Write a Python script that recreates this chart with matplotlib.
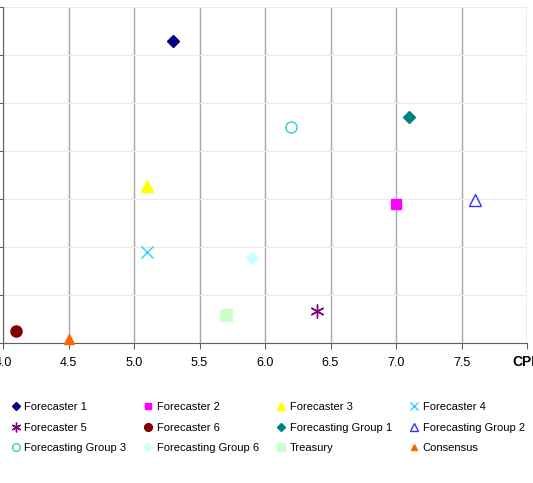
import matplotlib
matplotlib.use("Agg")
from matplotlib import pyplot as plt

plt.rcParams['font.family'] = ['Liberation Sans', 'DejaVu Sans']

names = ["Forecaster 1", "Forecaster 2", "Forecaster 3", "Forecaster 4",
         "Forecaster 5", "Forecaster 6", "Forecasting Group 1", "Forecasting Group 2",
         "Forecasting Group 3", "Forecasting Group 6", "Treasury", "Consensus"]
cpi = [5.3, 7.0, 5.1, 5.1, 6.4, 4.1, 7.1, 7.6, 6.2, 5.9, 5.7, 4.5]
growth = [3.15, 1.45, 1.64, 0.95, 0.33, 0.12, 2.35, 1.49, 2.25, 0.89, 0.29, 0.04]

# marker, face colour, edge colour, size
styles = [
    ("D", "#000080", "#000080", 6),
    ("s", "#FF00FF", "#FF00FF", 7),
    ("^", "#FFFF00", "#FFFF00", 8),
    ("x", "#33CCFF", "#33CCFF", 8),
    ((6, 2, 0), "#800080", "#800080", 10),
    ("o", "#800000", "#800000", 8),
    ("D", "#008080", "#008080", 6),
    ("^", "none", "#3333FF", 9),
    ("o", "none", "#33CCCC", 8),
    ("D", "#CCFFFF", "#CCFFFF", 6),
    ("s", "#CCFFCC", "#CCFFCC", 8),
    ("^", "#FF6600", "#FF6600", 7),
]

fig = plt.figure(figsize=(5.33, 4.83), dpi=100)
ax = fig.add_axes([3 / 533, 1 - 343 / 483, 524 / 533, 336 / 483])

handles = []
for n, x, y, (m, fc, ec, s) in zip(names, cpi, growth, styles):
    h, = ax.plot(x, y, linestyle="None", marker=m, markerfacecolor=fc,
                 markeredgecolor=ec, markersize=s, markeredgewidth=1.0,
                 label=n, clip_on=False, zorder=3)
    handles.append(h)

ax.set_xlim(4.0, 8.0)
ax.set_ylim(0, 3.5)
ax.set_xticks([4.0, 4.5, 5.0, 5.5, 6.0, 6.5, 7.0, 7.5, 8.0])
ax.set_xticklabels(["4.0", "4.5", "5.0", "5.5", "6.0", "6.5", "7.0", "7.5", ""])
ax.set_yticks([0, 0.5, 1.0, 1.5, 2.0, 2.5, 3.0, 3.5])
ax.tick_params(axis="x", labelsize=9, length=4, color="#606060", pad=6)
ax.tick_params(axis="y", labelsize=9, length=4, color="#606060")

ax.grid(axis="x", color="#A8A8A8", linewidth=1)
ax.grid(axis="y", color="#EBEBEB", linewidth=1)
ax.set_axisbelow(True)
for side in ["top", "right"]:
    ax.spines[side].set_visible(False)
for side in ["left", "bottom"]:
    ax.spines[side].set_color("#606060")

ax.text(8.0 - 0.11, -0.2, "CPI", fontsize=10, fontweight="bold",
        ha="left", va="center", clip_on=False)

# legend is filled column by column, so reorder to read row by row
order = [r * 4 + c for c in range(4) for r in range(3)]
fig.legend([handles[i] for i in order], [names[i] for i in order],
           loc="upper left", bbox_to_anchor=(0.002, 0.188), ncol=4,
           fontsize=8, frameon=False, handlelength=0.8, handletextpad=0.35,
           columnspacing=1.62, labelspacing=0.93, markerscale=0.7)

fig.savefig("out.png", dpi=100)
